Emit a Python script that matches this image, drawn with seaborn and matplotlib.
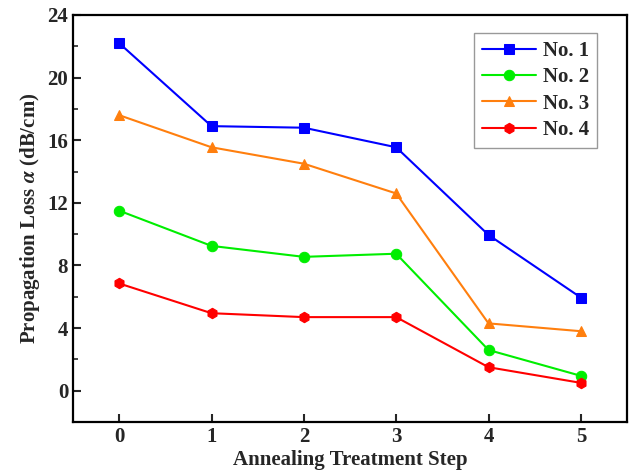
import pandas as pd
import matplotlib
matplotlib.use("Agg")
import matplotlib.pyplot as plt
import seaborn as sns
from matplotlib.ticker import MultipleLocator

steps = [0, 1, 2, 3, 4, 5]
no1 = [22.2, 16.9, 16.8, 15.55, 9.95, 5.95]
no2 = [11.5, 9.25, 8.55, 8.75, 2.6, 0.95]
no3 = [17.6, 15.55, 14.5, 12.6, 4.3, 3.8]
no4 = [6.85, 4.95, 4.7, 4.7, 1.5, 0.5]
names = ["No. 1", "No. 2", "No. 3", "No. 4"]

rows = []
for name, vals in zip(names, [no1, no2, no3, no4]):
    for s, v in zip(steps, vals):
        rows.append({"step": s, "loss": v, "sample": name})
df = pd.DataFrame(rows)

sns.set_style("ticks")
plt.rcParams["font.family"] = ["Liberation Serif", "DejaVu Serif"]
plt.rcParams["mathtext.fontset"] = "stix"
plt.rcParams["font.weight"] = "bold"

colors = ["#0000ff", "#00ee00", "#ff7f0e", "#ff0000"]

fig = plt.figure(figsize=(6.31, 4.76), dpi=100)
ax = fig.add_axes([73 / 631, 1 - 422 / 476, 554 / 631, 407 / 476])

sns.lineplot(data=df, x="step", y="loss", hue="sample", style="sample",
             palette=colors, markers=["s", "o", "^", "h"], dashes=False,
             markersize=7.5, linewidth=1.5, ax=ax)

for line in ax.lines:
    line.set_markeredgecolor(line.get_color())

ax.set_xlim(-0.5, 5.5)
ax.set_ylim(-2, 24)
ax.set_xticks(steps)
ax.set_yticks([0, 4, 8, 12, 16, 20, 24])
ax.yaxis.set_minor_locator(MultipleLocator(2))
ax.tick_params(axis="both", which="major", direction="in", length=6, width=1.5,
               labelsize=15, top=False, right=False)
ax.tick_params(axis="y", which="minor", direction="in", length=3.5, width=1.2)
for lab in ax.get_xticklabels() + ax.get_yticklabels():
    lab.set_fontweight("bold")
for sp in ax.spines.values():
    sp.set_linewidth(1.6)
    sp.set_color("black")

ax.set_xlabel("Annealing Treatment Step", fontsize=15, fontweight="bold", labelpad=2)
ax.set_ylabel(r"Propagation Loss $\alpha$ (dB/cm)", fontsize=15, fontweight="bold")

leg = ax.legend(loc="upper right", bbox_to_anchor=(0.946, 0.956), fontsize=15,
                frameon=True, fancybox=False, edgecolor="gray",
                handlelength=2.6, labelspacing=0.3, borderpad=0.4,
                handletextpad=0.3, borderaxespad=0)
leg.get_frame().set_linewidth(1.0)
for t in leg.get_texts():
    t.set_fontweight("bold")
for h in leg.legend_handles:
    h.set_markeredgecolor(h.get_color())

fig.savefig("out.png", dpi=100)
